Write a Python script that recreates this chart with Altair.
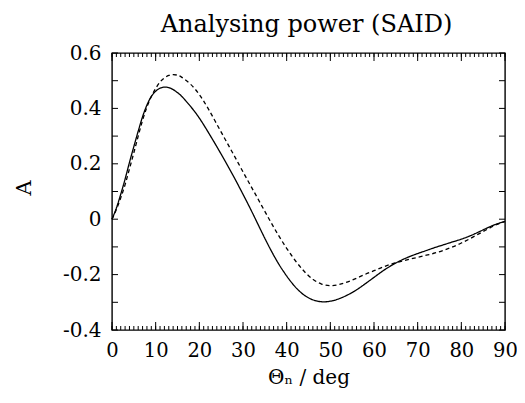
import altair as alt
import pandas as pd

# Data
theta = [0, 1, 2, 3, 4, 5, 6, 7, 8, 9, 10, 11, 12, 13, 14, 15, 16, 18, 20, 22,
         24, 26, 28, 30, 32, 34, 36, 38, 40, 42, 44, 46, 48, 50, 52, 54, 56, 58,
         60, 62, 64, 66, 68, 70, 72, 74, 76, 78, 80, 82, 84, 86, 88, 90]
solid = [0.0, 0.04, 0.09, 0.145, 0.205, 0.262, 0.318, 0.37, 0.412, 0.443, 0.462,
         0.473, 0.477, 0.475, 0.468, 0.457, 0.443, 0.407, 0.365, 0.315, 0.262,
         0.207, 0.15, 0.09, 0.028, -0.037, -0.1, -0.157, -0.205, -0.245, -0.274,
         -0.291, -0.298, -0.296, -0.287, -0.273, -0.255, -0.233, -0.21, -0.187,
         -0.167, -0.15, -0.136, -0.124, -0.113, -0.102, -0.092, -0.082, -0.072,
         -0.06, -0.046, -0.031, -0.018, -0.008]
dashed = [0.0, 0.035, 0.077, 0.125, 0.182, 0.24, 0.3, 0.357, 0.405, 0.443, 0.472,
          0.495, 0.51, 0.519, 0.522, 0.52, 0.512, 0.487, 0.45, 0.4, 0.343, 0.286,
          0.229, 0.171, 0.114, 0.057, 0.0, -0.055, -0.105, -0.15, -0.188, -0.217,
          -0.234, -0.24, -0.236, -0.226, -0.213, -0.199, -0.186, -0.173, -0.162,
          -0.153, -0.145, -0.138, -0.13, -0.122, -0.112, -0.1, -0.086, -0.07,
          -0.053, -0.036, -0.02, -0.008]
x_major = [0, 10, 20, 30, 40, 50, 60, 70, 80, 90]
x_minor = list(range(0, 91))
y_labels = [-0.4, -0.2, 0, 0.2, 0.4, 0.6]
y_ticks = [-0.4, -0.3, -0.2, -0.1, 0, 0.1, 0.2, 0.3, 0.4, 0.5, 0.6]
y_title = ["A"]

W, H = 393, 277
FONT = "DejaVu Serif"

n = len(theta)
df = pd.DataFrame({"theta": theta * 2, "A": solid + dashed,
                   "model": ["solid"] * n + ["dashed"] * n})

xs = alt.Scale(domain=[0, 90], nice=False, zero=False)
ys = alt.Scale(domain=[-0.4, 0.6], nice=False, zero=False)

ax_x = alt.Axis(values=x_major, title="Θₙ / deg", ticks=False, domain=False,
                grid=False, labelFont=FONT, labelFontSize=19.5, labelColor="black",
                labelPadding=11, labelFlush=False, titleFont=FONT, titleFontSize=20,
                titleFontWeight="normal", titleColor="black", titlePadding=8)
ax_y = alt.Axis(values=y_labels, title="", ticks=False, domain=False, grid=False,
                labelExpr="datum.value == 0 ? '0' : replace(format(datum.value, '.1f'), '\u2212', '-')",
                labelFont=FONT, labelFontSize=20, labelColor="black", labelFlush=False,
                labelPadding=11)

lines = alt.Chart(df).mark_line(color="black", strokeWidth=1.3, interpolate="natural").encode(
    x=alt.X("theta:Q", scale=xs, axis=ax_x),
    y=alt.Y("A:Q", scale=ys, axis=ax_y),
    strokeDash=alt.StrokeDash("model:N",
                              scale=alt.Scale(domain=["solid", "dashed"], range=[[1, 0], [4, 3]]),
                              legend=None),
)

dfx_minor = pd.DataFrame({"t": x_minor})
dfx_major = pd.DataFrame({"t": x_major})
dfy = pd.DataFrame({"v": y_ticks})

def xrule(d, y1, y2):
    return alt.Chart(d).mark_rule(color="black", strokeWidth=1).encode(
        x=alt.X("t:Q", scale=xs, axis=ax_x), y=alt.value(y1), y2=alt.value(y2))

def yrule(x1, x2):
    return alt.Chart(dfy).mark_rule(color="black", strokeWidth=1).encode(
        y=alt.Y("v:Q", scale=ys, axis=ax_y), x=alt.value(x1), x2=alt.value(x2))

ticks = [
    xrule(dfx_minor, H, H - 4), xrule(dfx_major, H, H - 8),
    xrule(dfx_minor, 0, 4), xrule(dfx_major, 0, 8),
    yrule(0, 6), yrule(W, W - 6),
]

ytitle = alt.Chart(pd.DataFrame({"label": y_title})).mark_text(
    font=FONT, fontSize=21, angle=270, color="black", align="center", baseline="middle"
).encode(text="label:N", x=alt.value(-87), y=alt.value(135))

chart = alt.layer(lines, *ticks, ytitle).properties(
    width=W, height=H,
    title=alt.TitleParams("Analysing power (SAID)", font=FONT, fontSize=24,
                          fontWeight="normal", color="black", anchor="middle",
                          offset=6, dx=-2),
    padding={"left": 104, "top": 45, "right": 12, "bottom": 60},
    autosize="none",
    background="white",
).configure_view(stroke="black", strokeWidth=1.4)

chart.save("out.html", embed_options={"renderer": "svg", "actions": False})
